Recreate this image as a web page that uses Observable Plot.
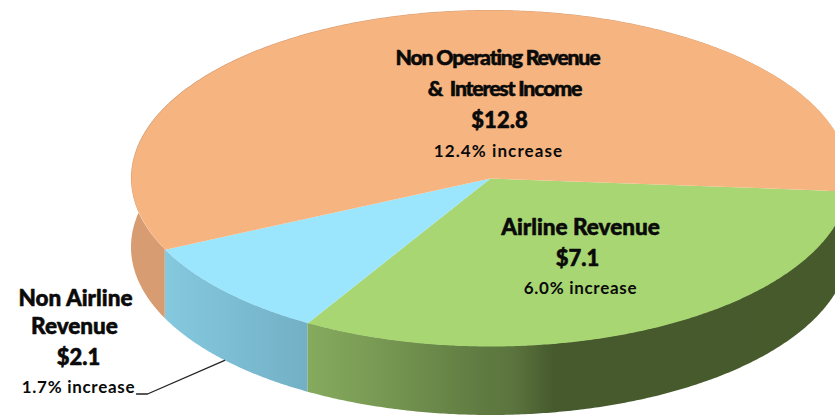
<!DOCTYPE html>
<html><head><meta charset="utf-8">
<script src="https://cdn.jsdelivr.net/npm/d3@7"></script>
<script src="https://cdn.jsdelivr.net/npm/@observablehq/plot@0.6"></script>
<style>
html,body{margin:0;padding:0;background:#fff;overflow:hidden}
svg{display:block}
.tight text{letter-spacing:-1.2px}
.wide text{letter-spacing:.7px}
.wider text{letter-spacing:1.1px}
</style></head><body>
<script>
const categories = ["Airline Revenue", "Non Airline Revenue", "Non Operating Revenue & Interest Income"];
const revenue = [7.1, 2.1, 12.8];
const increases = ["6.0% increase", "1.7% increase", "12.4% increase"];
const topColors = ["#a8d673", "#9be5fd", "#f6b580"];
const wallColors = ["url(#wallGreen)", "url(#wallBlue)", "#d79c72"];

const W = 835, H = 415, cx = 490, cy = 178, rx = 359, ry = 168, depth = 69;
const startAngle = 4.4 * Math.PI / 180;
const arcs = d3.pie().sort(null).startAngle(startAngle).endAngle(startAngle + 2 * Math.PI)(revenue);
const px = t => cx + rx * Math.cos(t), py = t => cy + ry * Math.sin(t);
const samples = a => d3.range(a.startAngle, a.endAngle, Math.PI / 360).concat(a.endAngle);

const tops = arcs.flatMap((a, i) => [
  {i, x: cx, y: cy},
  ...samples(a).map(t => ({i, x: px(t), y: py(t)}))
]);
const walls = arcs.map((a, i) => samples(a).map(t => ({x: px(t), y1: py(t), y2: py(t) + depth})));

const mid = (arcs[1].startAngle + arcs[1].endAngle) / 2;
const leader = [[136, 393.5], [147, 393.5], [px(mid), py(mid) + depth]];

const gradient = (id, x1, x2, stops) => `<linearGradient id="${id}" gradientUnits="userSpaceOnUse" x1="${x1}" x2="${x2}" y1="0" y2="0">${stops.map(([o, c]) => `<stop offset="${o}" stop-color="${c}"/>`).join("")}</linearGradient>`;
const defs = () => {
  const g = document.createElementNS("http://www.w3.org/2000/svg", "g");
  g.innerHTML = "<defs>" +
    gradient("wallGreen", 305, 835, [[0, "#86ab5e"], [.12, "#7a9c55"], [.34, "#5f7a41"], [.39, "#5c753f"], [.47, "#465a2d"], [1, "#465a2c"]]) +
    gradient("wallBlue", 165, 305, [[0, "#85c9df"], [1, "#73b0c6"]]) + "</defs>";
  return g;
};

const label = (text, x, y, fontSize, fontWeight, className, heavy = true) =>
  Plot.text([text], {text: d => d, x: () => x, y: () => y, fontSize, fontWeight, className,
    fill: "#0a0a0a", stroke: heavy ? "#0a0a0a" : "none", strokeWidth: heavy ? 0.55 : 0,
    fontFamily: "Lato, sans-serif", textAnchor: "middle", lineAnchor: "middle"});

const plot = Plot.plot({
  width: W, height: H, margin: 0,
  x: {domain: [0, W], range: [0, W], axis: null},
  y: {domain: [0, H], range: [0, H], axis: null},
  marks: [
    defs,
    ...walls.map((w, i) => Plot.areaY(w, {x: "x", y1: "y1", y2: "y2", fill: wallColors[i]})),
    Plot.line(tops, {x: "x", y: "y", z: "i", fill: d => topColors[d.i], stroke: "none"}),
    Plot.line(leader, {x: d => d[0], y: d => d[1], stroke: "#222", strokeWidth: 1.3}),
    label("Non Operating Revenue", 497, 58, 21.3, 900, "tight"),
    label("&\u00a0 Interest Income", 504, 89, 21.3, 900, "tight"),
    label("$" + revenue[2].toFixed(1), 499, 120, 22, 900),
    label(increases[2], 498, 151, 17, 700, "wider", false),
    label(categories[0], 580, 227, 22.5, 900),
    label("$" + revenue[0].toFixed(1), 577, 258, 22, 900),
    label(increases[0], 580, 288, 17, 700, "wide", false),
    label("Non Airline", 75, 298, 22.5, 900),
    label("Revenue", 74, 326, 22.5, 900),
    label("$" + revenue[1].toFixed(1), 78, 357, 22, 900),
    label(increases[1], 78, 387, 17, 700, "wide", false)
  ]
});
document.body.append(plot);
</script>
</body></html>
